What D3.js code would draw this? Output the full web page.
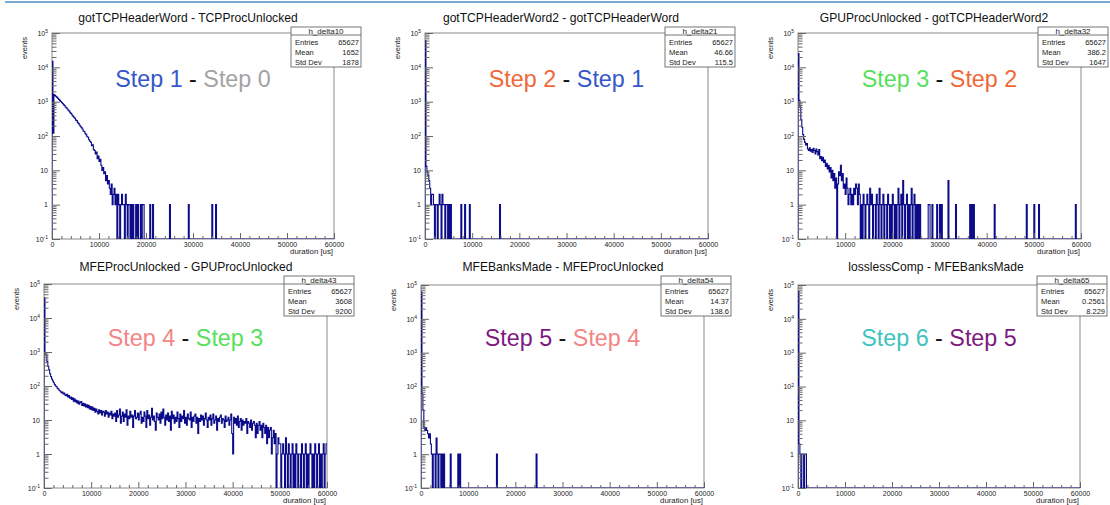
<!DOCTYPE html>
<html>
<head>
<meta charset="utf-8">
<style>
body { margin: 0; background: #fff; }
svg text { font-family: "Liberation Sans", Arial, Helvetica, sans-serif; }
</style>
</head>
<body>
<script src="https://d3js.org/d3.v7.min.js"></script>
<div id="chart"></div>
<script>
// ---- values (bins of 200 us, 0..60000) ----
var binWidth = 200;
var nBins = 300;
var entries = "65627";

var titles = ["gotTCPHeaderWord - TCPProcUnlocked", "gotTCPHeaderWord2 - gotTCPHeaderWord",
              "GPUProcUnlocked - gotTCPHeaderWord2", "MFEProcUnlocked - GPUProcUnlocked",
              "MFEBanksMade - MFEProcUnlocked", "losslessComp - MFEBanksMade"];
var histNames = ["h_delta10", "h_delta21", "h_delta32", "h_delta43", "h_delta54", "h_delta65"];
var means = ["1652", "46.66", "386.2", "3608", "14.37", "0.2561"];
var stdDevs = ["1878", "115.5", "1647", "9200", "138.6", "8.229"];
var stepPairs = [[1, 0], [2, 1], [3, 2], [4, 3], [5, 4], [6, 5]];

var xMajor = [0, 10000, 20000, 30000, 40000, 50000, 60000];
var yMajor = [0.1, 1, 10, 100, 1000, 10000, 100000];

// dense counts from x = 0, then isolated bins as [x, count]
var dense10 = [15000,120,1600,1500,1420,1330,1250,1160,1090,1010,
  950,880,820,770,700,660,610,560,530,480,
  450,410,380,350,330,290,280,250,230,210,
  190,175,160,140,135,118,110,95,92,78,
  70,66,52,55,40,38,30,34,22,26,
  18,21,14,10,12,8,9,5,7,4,
  5,3,2,4,1,2,3,1,2,0,
  2,1,0,1,2,1,1,0,2,1,
  0,1,1,0,1,0,1,0,0,1,
  0,1,0,0,1,0,1,1];
var tail10 = [[20800,1],[21400,1],[25000,1],[29000,1],[34000,1],[34800,1]];

var dense21 = [60000,13,9,7,5,3,1,2,2,1, 0,1,1,0,1,2,1,0,2,1, 1,0,1,1,0,1,0,1,0,0];
var tail21 = [[7600,1],[8400,1],[9400,1],[15800,1]];

var dense32 = [25000,1100,700,300,180,110,80,65,55,60,
  42,38,45,36,40,33,44,38,30,42,
  35,28,40,22,25,19,24,17,20,13,
  16,11,14,9,12,6,10,5,8,3,
  6,0,4,9,7,14,5,8,3,4,
  2,6,3,1,2,3,1,2,1,3,
  2,4,3,1,4,2,0,1,0,2,
  1,0,1,2,1,0,3,1,2,0,
  1,1,0,2,1,0,3,1,0,1,
  2,0,1,1,0,2,1,0,1,0,
  2,1,0,1,0,1,3,0,1,2,
  0,5,1,0,1,2,0,1,0,1,
  3,0,1,2,0,1,0,1,0,1];
var tail32 = [[27600,1],[27800,1],[28400,1],[29400,1],[30000,1],[30400,1],[31800,5],[33400,1],
  [36400,1],[36800,1],[37200,1],[41600,1],[48400,1],[50000,1],[51000,1],[58800,1]];

var dense43 = [39000,950,800,520,380,300,230,190,160,140,125,110,100,95,85,80,74,70,64,66,58,62,55,52,57,
  48,52,44,47,40,45,36,42,34,38,31,36,29,33,35,27,31,26,30,24,28,23,27,21,25,
  20,24,19,22,17,21,18,15,20,16,19,14,18,17,13,19,15,17,12,16,14,18,11,15,13,
  16,9,19,12,14,21,8,13,17,9,15,12,20,7,13,11,18,12,14,6,13,19,11,12,16,
  10,15,18,8,12,9,17,13,6,19,11,14,7,12,22,10,13,9,5,16,12,10,15,8,17,
  11,21,12,7,14,10,16,9,13,5,18,11,14,8,12,9,17,11,6,15,9,13,11,19,8,
  12,7,15,11,10,17,6,12,9,13,15,8,12,4,11,9,14,10,13,7,11,16,10,6,12,
  10,14,7,11,15,8,10,13,5,11,9,12,14,8,11,10,6,13,9,10,12,7,10,15,4,
  1,12,8,11,7,13,6,9,11,5,10,7,9,8,11,4,9,8,6,10,5,8,9,7,3,
  8,4,7,9,5,7,3,8,6,4,7,2,6,3,5,6,1,3,5,2,4,0,1,3,2,
  2,0,1,2,1,0,3,1,0,2,1,0,1,2,0,1,0,2,1,0,1,1,0,2,1,
  0,1,2,0,1,0,1,2,1,0,1,0,2,1,0,1,2,0,1,0,1,2,0,1,2];
var tail43 = [];

var dense54 = [62000,60,20,6,5,6,5,4,3,4, 2,1,0,1,1,0,3,1,0,1, 1,0,1,0,1];
var tail54 = [[6200,1],[7800,1],[8200,1],[16000,1],[24400,1]];

var dense65 = [65600,2,1,0,1,1,0,1,1];
var tail65 = [];

var denseAll = [dense10, dense21, dense32, dense43, dense54, dense65];
var tailAll = [tail10, tail21, tail32, tail43, tail54, tail65];

// ---- layout / style ----
var frames = [[52,33,334,239],[425,33,708,239],[798,33,1081,239],
              [44,284,327,488],[421,285,704,488],[798,285,1080,488]];
var titleX = [188, 561, 934, 186, 563, 936];
var stepColors = ["#a3a3a3", "#3557c9", "#f0683a", "#57e05c", "#f28585", "#7d1a80", "#3fc3bf"];
var histColor = "#0c0c8a";

var svg = d3.select("#chart").append("svg")
    .attr("width", 1110)
    .attr("height", 505);

svg.append("line")
  .attr("x1", 5).attr("x2", 1110).attr("y1", 2).attr("y2", 2)
  .attr("stroke", "#4a8ec6").attr("stroke-width", 1.5);

function buildBins(dense, tail) {
  var c = new Array(nBins).fill(0);
  dense.forEach(function(v, i) { c[i] = v; });
  tail.forEach(function(t) { c[Math.round(t[0] / binWidth)] = t[1]; });
  return c;
}

frames.forEach(function(f, p) {
  var left = f[0], top = f[1], right = f[2], bottom = f[3];
  var topRow = p < 3;
  var g = svg.append("g");

  var x = d3.scaleLinear().domain([0, 60000]).range([left, right]);
  var y = d3.scaleLog().domain([0.1, 100000]).range([bottom, top]);

  // title
  g.append("text")
    .attr("x", titleX[p]).attr("y", topRow ? 22 : 271)
    .attr("text-anchor", "middle")
    .attr("font-size", 12.1).attr("fill", "#111")
    .text(titles[p]);

  // frame
  g.append("rect")
    .attr("x", left).attr("y", top)
    .attr("width", right - left).attr("height", bottom - top)
    .attr("fill", "none").attr("stroke", "#8a8a8a").attr("stroke-width", 1);

  // histogram outline
  var counts = buildBins(denseAll[p], tailAll[p]);
  var pts = [[0, 0.1]];
  counts.forEach(function(c, i) {
    var v = c > 0 ? c : 0.1;
    pts.push([i * binWidth, v]);
    pts.push([(i + 1) * binWidth, v]);
  });
  var clipId = "clip" + p;
  g.append("clipPath").attr("id", clipId)
    .append("rect").attr("x", left).attr("y", top)
    .attr("width", right - left).attr("height", bottom - top);
  g.append("path")
    .datum(pts)
    .attr("clip-path", "url(#" + clipId + ")")
    .attr("fill", "none")
    .attr("stroke", histColor)
    .attr("stroke-width", 1.1)
    .attr("d", d3.line().x(function(d) { return x(d[0]); }).y(function(d) { return y(d[1]); }));

  // x axis
  var xMinor = d3.range(0, 60001, 2000).filter(function(v) { return v % 10000 !== 0; });
  var gx = g.append("g").attr("transform", "translate(0," + bottom + ")")
    .call(d3.axisBottom(x).tickValues(xMajor).tickSizeInner(-6).tickSizeOuter(0)
      .tickPadding(3).tickFormat(d3.format("d")));
  g.append("g").attr("transform", "translate(0," + bottom + ")")
    .call(d3.axisBottom(x).tickValues(xMinor).tickSizeInner(-3).tickSizeOuter(0).tickFormat(""))
    .call(function(s) { s.select(".domain").remove(); s.selectAll("line").attr("stroke", "#666"); });
  gx.select(".domain").remove();
  gx.selectAll("line").attr("stroke", "#666");
  gx.selectAll("text").attr("font-size", 7).attr("fill", "#222")
    .attr("font-family", "Liberation Sans, Arial, sans-serif");

  // y axis
  var yMinor = [];
  yMajor.slice(0, -1).forEach(function(d) {
    for (var k = 2; k <= 9; k++) yMinor.push(k * d);
  });
  var gy = g.append("g").attr("transform", "translate(" + left + ",0)")
    .call(d3.axisLeft(y).tickValues(yMajor).tickSizeInner(-8).tickSizeOuter(0).tickPadding(4)
      .tickFormat(function(d) { return d === 1 ? "1" : "10"; }));
  g.append("g").attr("transform", "translate(" + left + ",0)")
    .call(d3.axisLeft(y).tickValues(yMinor).tickSizeInner(-4.5).tickSizeOuter(0).tickFormat(""))
    .call(function(s) { s.select(".domain").remove(); s.selectAll("line").attr("stroke", "#666"); });
  gy.select(".domain").remove();
  gy.selectAll("line").attr("stroke", "#666");
  gy.selectAll("text").attr("font-size", 7).attr("fill", "#222")
    .attr("font-family", "Liberation Sans, Arial, sans-serif")
    .each(function(d) {
      if (d === 1 || d === 10) return;
      var e = Math.round(Math.log10(d));
      var t = d3.select(this);
      t.text("10");
      t.append("tspan").attr("dy", "-0.5em").attr("font-size", 5).text(e);
    });

  // axis titles
  g.append("text")
    .attr("transform", "translate(" + (left - 25) + "," + (top + 4) + ") rotate(-90)")
    .attr("text-anchor", "end")
    .attr("font-size", 7.5).attr("fill", "#222")
    .text("events");
  g.append("text")
    .attr("x", right - 1).attr("y", bottom + 15)
    .attr("text-anchor", "end")
    .attr("font-size", 7.8).attr("fill", "#222")
    .text("duration [us]");

  // big step label
  var sp = stepPairs[p];
  var st = g.append("text")
    .attr("x", (left + right) / 2).attr("y", topRow ? 87 : 346)
    .attr("text-anchor", "middle")
    .attr("font-size", 23.3);
  st.append("tspan").attr("fill", stepColors[sp[0]]).text("Step " + sp[0]);
  st.append("tspan").attr("fill", "#111").text(" - ");
  st.append("tspan").attr("fill", stepColors[sp[1]]).text("Step " + sp[1]);

  // stats box
  var bx = right - 43, by = topRow ? 27 : 276;
  var sb = g.append("g");
  sb.append("rect").attr("x", bx).attr("y", by).attr("width", 70).attr("height", 40)
    .attr("fill", "#fff").attr("stroke", "#555").attr("stroke-width", 0.8);
  sb.append("line").attr("x1", bx).attr("x2", bx + 70).attr("y1", by + 8).attr("y2", by + 8)
    .attr("stroke", "#555").attr("stroke-width", 0.8);
  sb.append("text").attr("x", bx + 35).attr("y", by + 6.8).attr("text-anchor", "middle")
    .attr("font-size", 8).attr("fill", "#222").text(histNames[p]);
  var rows = [["Entries", entries], ["Mean", means[p]], ["Std Dev", stdDevs[p]]];
  rows.forEach(function(r, i) {
    sb.append("text").attr("x", bx + 4).attr("y", by + 18 + i * 10)
      .attr("font-size", 7.5).attr("fill", "#222").text(r[0]);
    sb.append("text").attr("x", bx + 68).attr("y", by + 18 + i * 10).attr("text-anchor", "end")
      .attr("font-size", 7.5).attr("fill", "#222").text(r[1]);
  });
});
</script>
</body>
</html>
